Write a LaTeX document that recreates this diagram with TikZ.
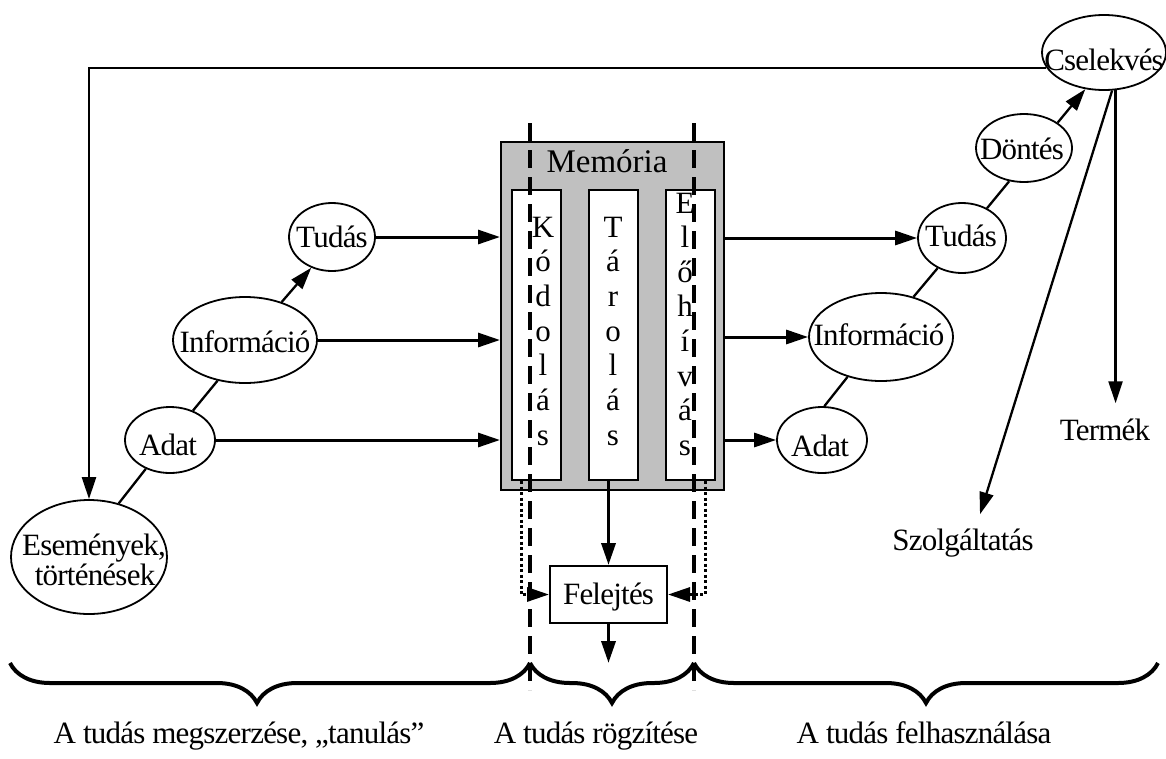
\documentclass[tikz,border=0pt]{standalone}
\usepackage{fontspec}
\setmainfont{Liberation Serif}[LetterSpace=-2.5]
\usetikzlibrary{arrows.meta,decorations.pathreplacing,shapes.geometric,calc}
\definecolor{memgray}{RGB}{192,192,192}

\begin{document}
\begin{tikzpicture}[x=1pt,y=-1pt,
  font=\fontsize{31pt}{32pt}\selectfont,
  ell/.style={draw, ellipse, line width=1.8pt, inner sep=0pt},
  txt/.style={anchor=base, inner sep=0pt},
  tip/.style={-{Triangle[length=22pt,width=14pt]}},
  link/.style={line width=2.3pt},
  flow/.style={line width=3pt, tip},
  boxline/.style={draw, line width=2pt, inner sep=0pt},
  colbox/.style={boxline, fill=white, minimum width=49pt, minimum height=290pt},
  divider/.style={line width=4.5pt, dash pattern=on 18pt off 9pt},
  dotflow/.style={line width=3pt, dash pattern=on 3pt off 2.5pt, tip},
  brc/.style={decorate, line width=4pt,
    decoration={brace, mirror, amplitude=40pt, aspect=#1}},
]
\useasboundingbox (0,0) rectangle (1166,758);

% ---- acquisition chain (left) ----
\node[ell, minimum width=86pt,  minimum height=68pt]  (tudL)  at (332,237) {};
\node[ell, minimum width=144pt, minimum height=86pt]  (infL)  at (245,340) {};
\node[ell, minimum width=90pt,  minimum height=66pt]  (adatL) at (170,440) {};
\node[ell, minimum width=156pt, minimum height=114pt] (evt)   at (89,557)  {};
\node[txt] (tudLt)  at (332,247) {Tudás};
\node[txt] (infLt)  at (245,352) {Információ};
\node[txt] (adatLt) at (168,455) {Adat};
\node[txt] (evt1)   at (94,555)  {Események,};
\node[txt] (evt2)   at (95,585)  {történések};

\draw[link] (evt.61) -- (adatL.230);
\draw[link] (adatL.52) -- (infL.236);
\draw[link, tip] (infL.46) -- (tudL.236);

% ---- memory ----
\node[boxline, fill=memgray, minimum width=223pt, minimum height=348pt] (mem) at (612.5,316) {};
\node[txt, font=\fontsize{33pt}{34pt}\selectfont\addfontfeature{LetterSpace=0}] (memt) at (607,172) {Memória};
\node[colbox] (kod) at (536.5,335) {};
\node[colbox] (tar) at (613,335) {};
\node[colbox] (elo) at (690,335) {};
\foreach \c [count=\i from 0] in {K,ó,d,o,l,á,s}
  \node[txt] (kl\i) at (543,{237+34.7*\i}) {\c};
\foreach \c [count=\i from 0] in {T,á,r,o,l,á,s}
  \node[txt] (tl\i) at (613,{237+34.7*\i}) {\c};
\foreach \c [count=\i from 0] in {E,l,ő,h,í,v,á,s}
  \node[txt] (el\i) at (685,{213+34.6*\i}) {\c};

\node[boxline, fill=white, minimum width=117pt, minimum height=57pt,
      text height=20pt, text depth=0pt] (fel) at (608.5,594.5) {Felejtés};
\coordinate (felout) at (608.5,663);

\draw[flow] (tudL.east)  -- (mem.west |- tudL.east);
\draw[flow] (infL.east)  -- (mem.west |- infL.east);
\draw[flow] (adatL.east) -- (mem.west |- adatL.east);

\draw[line width=3.5pt, tip] (fel.north |- tar.south) -- (fel.north);
\draw[line width=3.5pt, tip] (fel.south) -- (felout);
\draw[dotflow] ([xshift=-15.5pt]kod.south) |- (fel.west);
\draw[dotflow] ([xshift=15pt]elo.south) |- (fel.east);

% ---- use chain (right) ----
\node[ell, minimum width=90pt,  minimum height=66pt] (adatR) at (822,440) {};
\node[ell, minimum width=144pt, minimum height=88pt] (infR)  at (881,337) {};
\node[ell, minimum width=88pt,  minimum height=70pt] (tudR)  at (962,238) {};
\node[ell, minimum width=96pt,  minimum height=68pt] (dont)  at (1024,148) {};
\node[ell, minimum width=124pt, minimum height=75pt] (csel)  at (1104,52.5) {};
\node[txt] (adatRt) at (820,456)  {Adat};
\node[txt] (infRt)  at (879,345)  {Információ};
\node[txt] (tudRt)  at (961,246)  {Tudás};
\node[txt] (dontt)  at (1022,159) {Döntés};
\node[txt] (cselt)  at (1104,70)  {Cselekvés};
\node[txt] (term)   at (1105,440) {Termék};
\node[txt] (szolg)  at (963,550)  {Szolgáltatás};

\draw[flow] (mem.east |- tudR.west)  -- (tudR.west);
\draw[flow] (mem.east |- infR.west)  -- (infR.west);
\draw[flow] (mem.east |- adatR.west) -- (adatR.west);

\draw[link] (adatR.86) -- (infR.230);
\draw[link] (infR.51) -- (tudR.231);
\draw[link] (tudR.50) -- (dont.246);
\draw[link, tip] (dont.37) -- (csel.243);

\draw[link, tip, shorten >=15pt] (csel.287) -- (csel.287 |- term.north);
\draw[link, tip] (csel.282) -- ([xshift=17pt,yshift=14pt]szolg.north);
\draw[link, tip] (csel.195) -| (evt.north);

% ---- phase dividers ----
\coordinate (dLtop) at (530,123);
\coordinate (dLbot) at (530,690);
\coordinate (dRtop) at (694,123);
\coordinate (dRbot) at (694,690);
\draw[divider] (dLtop) -- (dLbot);
\draw[divider] (dRtop) -- (dRbot);

% ---- phase braces and captions ----
\coordinate (b0) at (10,663);
\coordinate (b1) at (530,663);
\coordinate (b2) at (694,663);
\coordinate (b3) at (1158,663);
\draw[brc=0.475] (b0) -- (b1);
\draw[brc=0.5]   (b1) -- (b2);
\draw[brc=0.5]   (b2) -- (b3);

\node[txt] (cap1) at (239,743) {A tudás megszerzése, „tanulás”};
\node[txt] (cap2) at (596,743) {A tudás rögzítése};
\node[txt] (cap3) at (924,743) {A tudás felhasználása};
\end{tikzpicture}
\end{document}
